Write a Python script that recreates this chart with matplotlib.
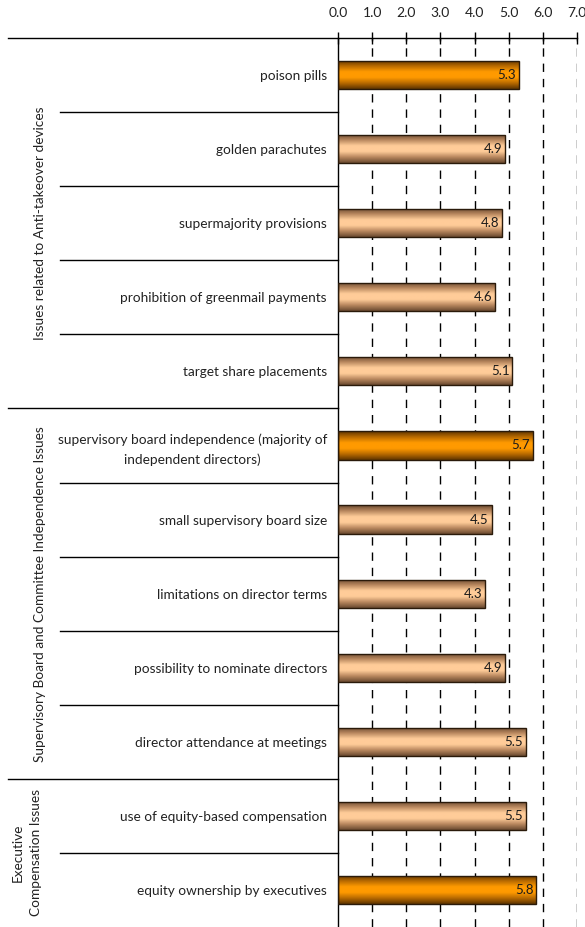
import matplotlib
matplotlib.use("Agg")
import matplotlib.pyplot as plt
import numpy as np
from matplotlib.transforms import blended_transform_factory
from matplotlib.colors import LinearSegmentedColormap

categories = [
    "poison pills",
    "golden parachutes",
    "supermajority provisions",
    "prohibition of greenmail payments",
    "target share placements",
    "supervisory board independence (majority of\nindependent directors)",
    "small supervisory board size",
    "limitations on director terms",
    "possibility to nominate directors",
    "director attendance at meetings",
    "use of equity-based compensation",
    "equity ownership by executives",
]
values = [5.3, 4.9, 4.8, 4.6, 5.1, 5.7, 4.5, 4.3, 4.9, 5.5, 5.5, 5.8]
highlight = [True, False, False, False, False, True, False, False, False, False, False, True]
groups = ["Issues related to Anti-takeover devices",
          "Supervisory Board and Committee Independence Issues",
          "Executive\nCompensation Issues"]
group_sizes = [5, 5, 2]
xticks = [0.0, 1.0, 2.0, 3.0, 4.0, 5.0, 6.0, 7.0]

plt.rcParams['font.family'] = ['Lato', 'DejaVu Sans']

W, H = 585, 927
fig = plt.figure(figsize=(W / 100, H / 100), dpi=100)
ax = fig.add_axes([338 / W, 0, (577 - 338) / W, 1 - 38 / H])

n = len(categories)
y = np.arange(n)
bars = ax.barh(y, values, height=0.38, color='none', edgecolor='#2a1a0a', linewidth=1.0, zorder=3)

orange = LinearSegmentedColormap.from_list('o', ['#5e3400', '#b86a00', '#ff9a00', '#ff9a00', '#b86a00', '#5e3400'])
tan = LinearSegmentedColormap.from_list('t', ['#6a4a30', '#b8875e', '#ffcc99', '#ffcc99', '#b8875e', '#6a4a30'])
grad = np.linspace(0, 1, 100).reshape(-1, 1)
for b, v, hl in zip(bars, values, highlight):
    x0, y0 = b.get_x(), b.get_y()
    w, h = b.get_width(), b.get_height()
    im = ax.imshow(grad, cmap=orange if hl else tan, aspect='auto',
                   extent=[x0, x0 + w, y0 + h, y0], zorder=2, interpolation='bicubic')
    im.set_clip_path(b)
    ax.text(v - 0.08, b.get_y() + h / 2, f"{v:.1f}", ha='right', va='center',
            fontsize=9.5, color='#1a1a1a', zorder=4)

ax.set_xlim(0, 7.0)
ax.set_ylim(n - 0.5, -0.5)
ax.set_xticks(xticks)
ax.set_xticklabels([f"{t:.1f}" for t in xticks], fontsize=10, color='#222222')
ax.xaxis.tick_top()
ax.tick_params(axis='x', direction='inout', length=9, width=1, pad=9)
ax.set_yticks(y)
ax.set_yticklabels(categories, fontsize=9.8, color='#222222', multialignment='center',
                   linespacing=1.7)
ax.tick_params(axis='y', length=0, pad=8)
for s in ['right', 'bottom', 'top']:
    ax.spines[s].set_visible(False)
ax.spines['left'].set_linewidth(1.0)
for t in xticks[1:]:
    ax.axvline(t, color='black', linewidth=1.0, linestyle=(0, (6, 5)), zorder=1)

tr = blended_transform_factory(fig.transFigure, ax.transData)
fig.add_artist(plt.Line2D([8 / W, 577 / W], [1 - 38 / H, 1 - 38 / H], color='black',
                          linewidth=1.0, transform=fig.transFigure))
start = 0
for gi, size in enumerate(group_sizes):
    for k in range(1, size):
        yy = start + k - 0.5
        fig.add_artist(plt.Line2D([60 / W, 338 / W], [yy, yy], color='black', linewidth=1.0, transform=tr))
    end = start + size
    if end < n:
        yy = end - 0.5
        fig.add_artist(plt.Line2D([8 / W, 338 / W], [yy, yy], color='black', linewidth=1.0, transform=tr))
    mid = start + size / 2 - 0.5
    xg = 27 / W if '\n' in groups[gi] else 40 / W
    fig.text(xg, mid, groups[gi], rotation=90, ha='center', va='center', fontsize=9.8,
             color='#222222', transform=tr, multialignment='center', linespacing=1.6)
    start = end

fig.savefig("out.png", dpi=100)
